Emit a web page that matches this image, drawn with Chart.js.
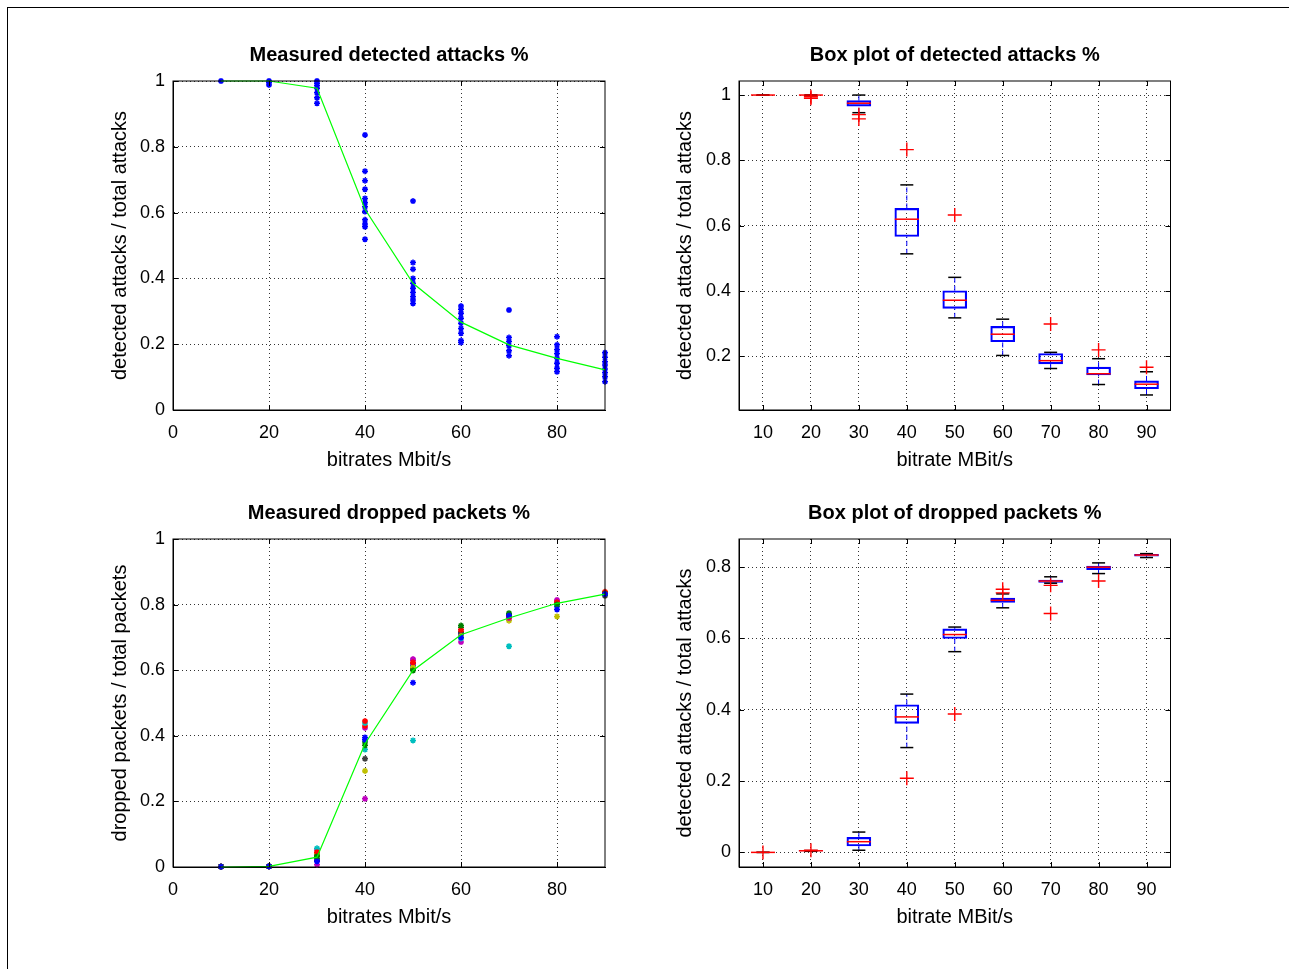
<!DOCTYPE html>
<html>
<head>
<meta charset="utf-8">
<title>Detected attacks and dropped packets</title>
<script src="https://cdn.jsdelivr.net/npm/chart.js@4/dist/chart.umd.min.js"></script>
<style>
  body { margin: 0; background: #fff; width: 1289px; height: 969px; overflow: hidden; position: relative; }
  #frame { position: absolute; left: 7px; top: 7px; width: 1300px; height: 980px; border-left: 1px solid #000; border-top: 1px solid #000; }
  canvas { position: absolute; }
</style>
</head>
<body>
<div id="frame"></div>
<canvas id="measuredAttacks" width="505" height="435" style="left:110px;top:45px"></canvas>
<canvas id="boxAttacks" width="509" height="435" style="left:675px;top:45px"></canvas>
<canvas id="measuredDropped" width="505" height="434" style="left:110px;top:503px"></canvas>
<canvas id="boxDropped" width="509" height="434" style="left:675px;top:503px"></canvas>
<script>
// --- data ---
const bitrates = [10, 20, 30, 40, 50, 60, 70, 80, 90];
const bitrateLabels = ['10', '20', '30', '40', '50', '60', '70', '80', '90'];
const scatterXTicks = [0, 20, 40, 60, 80];
const unitYTicks = [0, 0.2, 0.4, 0.6, 0.8, 1];

// measured detected attacks (one list of samples per bitrate)
const detectedSamples = [
    [1.0],
    [1.0, 0.995, 0.988],
    [1.0, 0.993, 0.986, 0.978, 0.964, 0.949, 0.932],
    [0.836, 0.726, 0.697, 0.671, 0.643, 0.630, 0.618, 0.603, 0.578, 0.565, 0.557, 0.519],
    [0.635, 0.448, 0.428, 0.400, 0.385, 0.370, 0.357, 0.344, 0.334, 0.324],
    [0.316, 0.306, 0.294, 0.279, 0.264, 0.248, 0.233, 0.211, 0.205],
    [0.304, 0.220, 0.208, 0.195, 0.180, 0.165],
    [0.223, 0.198, 0.184, 0.172, 0.157, 0.142, 0.127, 0.116],
    [0.174, 0.160, 0.147, 0.137, 0.125, 0.113, 0.101, 0.086]
];
const detectedMean = [1.0, 1.0, 0.978, 0.61, 0.385, 0.267, 0.198, 0.157, 0.122];

// measured dropped packets, one row per run
const droppedRuns = [
    [0.001, 0.002, 0.017, 0.388, 0.562, 0.700, 0.766, 0.785, 0.832],
    [0.001, 0.002, 0.032, 0.371, 0.599, 0.736, 0.774, 0.800, 0.833],
    [0.001, 0.002, 0.045, 0.445, 0.624, 0.723, 0.762, 0.807, 0.839],
    [0.001, 0.002, 0.057, 0.439, 0.386, 0.697, 0.673, 0.798, 0.834],
    [0.001, 0.002, 0.007, 0.208, 0.634, 0.686, 0.759, 0.814, 0.836],
    [0.001, 0.002, 0.042, 0.293, 0.609, 0.704, 0.751, 0.764, 0.837],
    [0.001, 0.002, 0.025, 0.330, 0.605, 0.715, 0.762, 0.802, 0.827],
    [0.001, 0.002, 0.020, 0.395, 0.614, 0.710, 0.766, 0.795, 0.833],
    [0.001, 0.002, 0.035, 0.381, 0.603, 0.730, 0.770, 0.803, 0.831],
    [0.001, 0.002, 0.040, 0.430, 0.620, 0.718, 0.760, 0.808, 0.832],
    [0.001, 0.002, 0.022, 0.358, 0.608, 0.700, 0.765, 0.800, 0.835],
    [0.001, 0.002, 0.052, 0.424, 0.630, 0.712, 0.762, 0.810, 0.834]
];
const droppedMean = [0.0, 0.002, 0.030, 0.376, 0.599, 0.708, 0.759, 0.804, 0.832];
const runColors = ['#0000ff', '#008000', '#ff0000', '#00bfbf', '#bf00bf', '#bfbf00', '#404040'];

// box plot of detected attacks
const detLow     = [1.0, 1.0, 0.946, 0.514, 0.318, 0.203, 0.163, 0.114, 0.082];
const detQ1      = [1.0, 1.0, 0.966, 0.567, 0.347, 0.245, 0.177, 0.143, 0.101];
const detMedian  = [1.0, 1.0, 0.975, 0.620, 0.372, 0.268, 0.187, 0.147, 0.115];
const detQ3      = [1.0, 1.0, 0.983, 0.653, 0.401, 0.292, 0.209, 0.167, 0.125];
const detHigh    = [1.0, 1.0, 1.0, 0.725, 0.442, 0.314, 0.2125, 0.193, 0.153];
const detOutliers = [[], [0.995, 0.99], [0.94, 0.927], [0.833], [0.633], [], [0.299], [0.220], [0.167]];
const detYTicks = [0.2, 0.4, 0.6, 0.8, 1];

// box plot of dropped packets
const dropLow     = [0.0, 0.003, 0.006, 0.294, 0.563, 0.686, 0.755, 0.782, 0.827];
const dropQ1      = [0.0, 0.004, 0.018, 0.362, 0.600, 0.701, 0.757, 0.793, 0.831];
const dropMedian  = [0.0, 0.0045, 0.030, 0.380, 0.611, 0.707, 0.761, 0.800, 0.834];
const dropQ3      = [0.0, 0.005, 0.042, 0.414, 0.627, 0.713, 0.764, 0.803, 0.836];
const dropHigh    = [0.0, 0.005, 0.057, 0.444, 0.632, 0.725, 0.773, 0.812, 0.838];
const dropOutliers = [[0.0], [0.006], [], [0.208], [0.388], [0.738, 0.728], [0.749, 0.670], [0.761], []];
const dropYTicks = [0, 0.2, 0.4, 0.6, 0.8];

// --- helpers ---
const FONT = "'Liberation Sans', Arial, Helvetica, sans-serif";
Chart.defaults.font.family = FONT;
Chart.defaults.color = '#000';

// axes box on all four sides plus inward tick marks, like the original
const axesBox = {
    id: 'axesBox',
    afterDatasetsDraw(chart) {
        const { ctx, chartArea: a, scales: { x, y } } = chart;
        ctx.save();
        ctx.strokeStyle = '#000';
        ctx.lineWidth = 1;
        ctx.strokeRect(a.left, a.top, a.width, a.height);
        ctx.beginPath();
        x.ticks.forEach(t => {
            const px = Math.round(x.getPixelForValue(t.value)) + 0.5;
            ctx.moveTo(px, a.bottom); ctx.lineTo(px, a.bottom - 5);
            ctx.moveTo(px, a.top); ctx.lineTo(px, a.top + 5);
        });
        y.ticks.forEach(t => {
            const py = Math.round(y.getPixelForValue(t.value)) + 0.5;
            ctx.moveTo(a.left, py); ctx.lineTo(a.left + 5, py);
            ctx.moveTo(a.right, py); ctx.lineTo(a.right - 5, py);
        });
        ctx.stroke();
        ctx.restore();
    }
};

const makeScales = (c) => ({
    x: {
        type: 'linear', min: c.xMin, max: c.xMax, offset: false,
        afterBuildTicks: s => { s.ticks = c.xTicks.map(v => ({ value: v })); },
        // fixed axis height, and no extra room asked for the end labels
        afterFit: s => { s.height = 70; s.paddingLeft = 0; s.paddingRight = 0; },
        ticks: {
            padding: 0, maxRotation: 0, autoSkip: false,
            font: { size: 18, lineHeight: '20px' },
            callback: (v, i) => c.xLabels ? c.xLabels[i] : String(v)
        },
        // invisible tick marks only push the labels down
        grid: { color: 'rgba(0,0,0,0.8)', drawTicks: true, tickLength: 13, tickColor: 'rgba(0,0,0,0)', lineWidth: 1, offset: false },
        border: { color: '#000', width: 1, dash: [1, 3] },
        title: { display: true, text: c.xTitle, font: { size: 20, lineHeight: '20px' }, padding: { top: 0, bottom: 10 } }
    },
    y: {
        type: 'linear', min: c.yMin, max: c.yMax,
        afterBuildTicks: s => { s.ticks = c.yTicks.map(v => ({ value: v })); },
        afterFit: s => { s.width = c.yWidth; s.paddingTop = 0; s.paddingBottom = 0; },
        ticks: { padding: 8, font: { size: 18, lineHeight: '20px' }, callback: v => String(v) },
        grid: { color: 'rgba(0,0,0,0.8)', drawTicks: false, lineWidth: 1 },
        border: { color: '#000', width: 1, dash: [1, 3] },
        title: { display: true, text: c.yTitle, font: { size: 20, lineHeight: '20px' }, padding: { top: 0, bottom: 0 } }
    }
});

const makeOptions = (title, scaleCfg) => ({
    responsive: false,
    animation: false,
    events: [],
    layout: { padding: { top: 0, right: 10, bottom: 0, left: 0 } },
    plugins: {
        legend: { display: false },
        tooltip: { enabled: false },
        title: {
            display: true, text: title, fullSize: false,
            font: { size: 20, weight: 'bold', lineHeight: '20px' },
            padding: { top: 0, bottom: 16 }
        }
    },
    scales: makeScales(scaleCfg)
});

// box plot datasets built from the five-number summaries
const boxDatasets = (low, q1, med, q3, high, outliers) => {
    const whiskers = [];
    bitrates.forEach((b, i) => {
        const c = i + 1;
        whiskers.push({ x: c, y: q3[i] }, { x: c, y: high[i] }, { x: c, y: null },
                      { x: c, y: low[i] }, { x: c, y: q1[i] }, { x: c, y: null });
    });
    const caps = [];
    bitrates.forEach((b, i) => { caps.push({ x: i + 1, y: high[i] }, { x: i + 1, y: low[i] }); });
    const outs = [];
    outliers.forEach((list, i) => list.forEach(v => outs.push({ x: i + 1, y: v })));
    return [
        {
            type: 'line', data: whiskers, order: 5, spanGaps: false, clip: false,
            borderColor: '#0000ff', borderWidth: 1, borderDash: [5, 3], pointRadius: 0
        },
        {
            type: 'bar', data: q1.map((v, i) => ({ x: i + 1, y: [v, q3[i]] })), order: 4,
            barThickness: 24, backgroundColor: 'rgba(0,0,0,0)', borderColor: '#0000ff',
            borderWidth: 1.5, borderSkipped: false
        },
        {
            type: 'scatter', data: caps, order: 3, clip: false,
            pointStyle: 'line', pointRadius: 6.5, pointBorderColor: '#000', pointBorderWidth: 1.5
        },
        {
            type: 'scatter', data: med.map((v, i) => ({ x: i + 1, y: v })), order: 2, clip: false,
            pointStyle: 'line', pointRadius: 12, pointBorderColor: '#ff0000', pointBorderWidth: 1.5
        },
        {
            type: 'scatter', data: outs, order: 1, clip: false,
            pointStyle: 'cross', pointRadius: 7, pointBorderColor: '#ff0000', pointBorderWidth: 1.4
        }
    ];
};

// --- chart 1: measured detected attacks ---
const detectedPoints = [];
detectedSamples.forEach((list, i) => list.forEach(v => detectedPoints.push({ x: bitrates[i], y: v })));

new Chart(document.getElementById('measuredAttacks'), {
    type: 'scatter',
    data: {
        datasets: [
            {
                type: 'line', data: bitrates.map((b, i) => ({ x: b, y: detectedMean[i] })), order: 1,
                borderColor: '#00ff00', borderWidth: 1.2, pointRadius: 0, clip: false
            },
            {
                data: detectedPoints, order: 2, clip: false,
                pointStyle: 'star', pointRadius: 3, pointBorderWidth: 1.5,
                pointBorderColor: '#0000ff', pointBackgroundColor: '#0000ff'
            }
        ]
    },
    options: makeOptions('Measured detected attacks %', {
        xMin: 0, xMax: 90, xTicks: scatterXTicks, xTitle: 'bitrates Mbit/s',
        yMin: 0, yMax: 1, yTicks: unitYTicks, yTitle: 'detected attacks / total attacks', yWidth: 63
    }),
    plugins: [axesBox]
});

// --- chart 2: box plot of detected attacks ---
new Chart(document.getElementById('boxAttacks'), {
    type: 'bar',
    data: { datasets: boxDatasets(detLow, detQ1, detMedian, detQ3, detHigh, detOutliers) },
    options: makeOptions('Box plot of detected attacks %', {
        xMin: 0.5, xMax: 9.5, xTicks: [1, 2, 3, 4, 5, 6, 7, 8, 9], xLabels: bitrateLabels, xTitle: 'bitrate MBit/s',
        yMin: 0.036, yMax: 1.043, yTicks: detYTicks, yTitle: 'detected attacks / total attacks', yWidth: 64
    }),
    plugins: [axesBox]
});

// --- chart 3: measured dropped packets ---
const runDatasets = droppedRuns.map((run, r) => ({
    data: run.map((v, i) => ({ x: bitrates[i], y: v })), order: 2, clip: false,
    pointStyle: 'star', pointRadius: 3, pointBorderWidth: 1.5,
    pointBorderColor: runColors[r % runColors.length], pointBackgroundColor: runColors[r % runColors.length]
}));

new Chart(document.getElementById('measuredDropped'), {
    type: 'scatter',
    data: {
        datasets: [
            {
                type: 'line', data: bitrates.map((b, i) => ({ x: b, y: droppedMean[i] })), order: 1,
                borderColor: '#00ff00', borderWidth: 1.2, pointRadius: 0, clip: false
            },
            ...runDatasets
        ]
    },
    options: makeOptions('Measured dropped packets %', {
        xMin: 0, xMax: 90, xTicks: scatterXTicks, xTitle: 'bitrates Mbit/s',
        yMin: 0, yMax: 1, yTicks: unitYTicks, yTitle: 'dropped packets / total packets', yWidth: 63
    }),
    plugins: [axesBox]
});

// --- chart 4: box plot of dropped packets ---
new Chart(document.getElementById('boxDropped'), {
    type: 'bar',
    data: { datasets: boxDatasets(dropLow, dropQ1, dropMedian, dropQ3, dropHigh, dropOutliers) },
    options: makeOptions('Box plot of dropped packets %', {
        xMin: 0.5, xMax: 9.5, xTicks: [1, 2, 3, 4, 5, 6, 7, 8, 9], xLabels: bitrateLabels, xTitle: 'bitrate MBit/s',
        yMin: -0.041, yMax: 0.879, yTicks: dropYTicks, yTitle: 'detected attacks / total attacks', yWidth: 64
    }),
    plugins: [axesBox]
});
</script>
</body>
</html>
